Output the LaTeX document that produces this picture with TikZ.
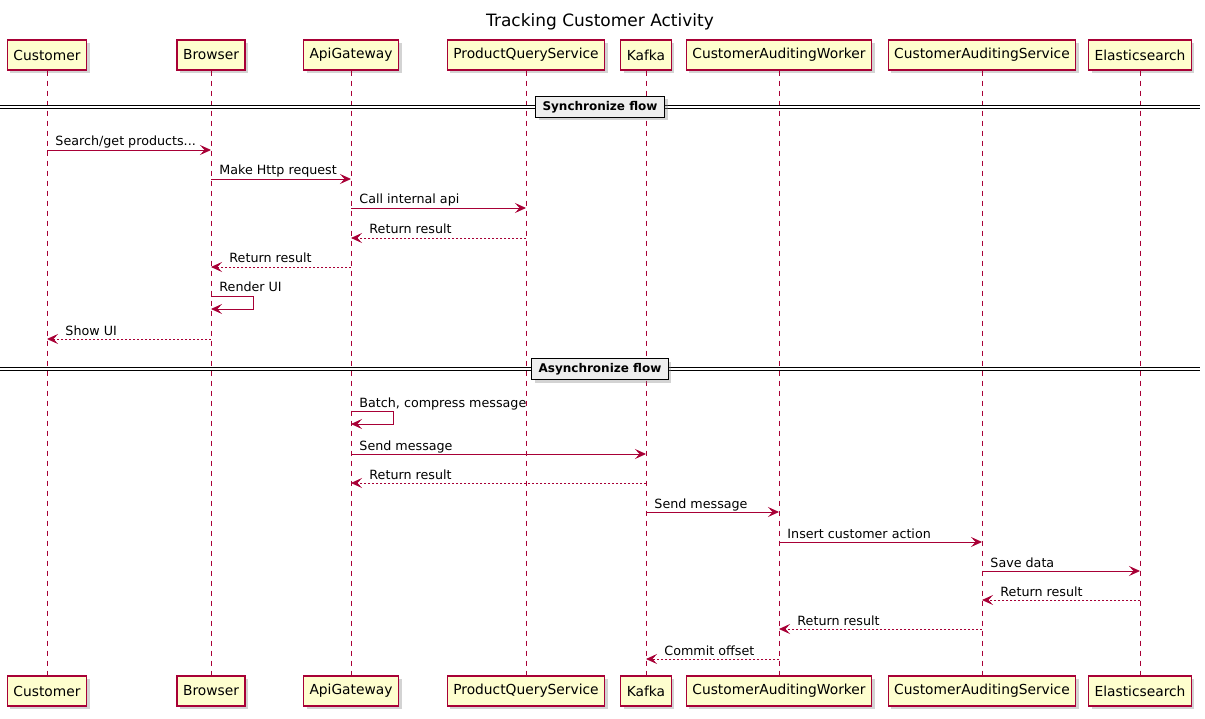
\documentclass[tikz,border=0pt]{standalone}
\usepackage{fontspec}
\setmainfont{DejaVu Sans}
\usetikzlibrary{arrows.meta,shadows}

\definecolor{umlred}{HTML}{A80036}
\definecolor{umlfill}{HTML}{FEFECE}
\definecolor{sepgray}{HTML}{EEEEEE}

\begin{document}
\begin{tikzpicture}[x=1pt,y=-1pt,
  actor/.style={draw=umlred,fill=umlfill,line width=1.2pt,minimum height=30pt,inner xsep=6pt,
    font=\fontsize{13.8}{16}\selectfont,drop shadow={opacity=0.35,shadow xshift=3pt,shadow yshift=-3pt}},
  life/.style={umlred,line width=0.8pt,dash pattern=on 5pt off 5pt},
  msg/.style={umlred,line width=0.9pt,-{Stealth[length=11pt,width=10pt,inset=4.5pt]}},
  ret/.style={msg,dash pattern=on 2pt off 2pt},
  lbl/.style={black,anchor=base west,inner sep=0pt,xshift=8pt,yshift=4pt,font=\fontsize{12.7}{15}\selectfont},
  rlbl/.style={lbl,xshift=10pt},
  divline/.style={double,double distance=2.2pt,line width=1pt},
  divbox/.style={draw,fill=sepgray,line width=1.3pt,minimum height=21pt,inner xsep=7pt,
    font=\bfseries\fontsize{12}{14}\selectfont,drop shadow={opacity=0.35,shadow xshift=3pt,shadow yshift=-3pt}}]

\useasboundingbox (0,0) rectangle (1205,719);

\node[font=\fontsize{17}{19}\selectfont] (title) at (600,22) {Tracking Customer Activity};

% participants, top row
\node[actor] (cust) at (47,55) {Customer};
\node[actor] (brow) at (211,55) {Browser};
\node[actor] (api) at (351,55) {ApiGateway};
\node[actor] (pqs) at (526,55) {ProductQueryService};
\node[actor] (kafka) at (646,55) {Kafka};
\node[actor] (worker) at (779,55) {CustomerAuditingWorker};
\node[actor] (audit) at (982,55) {CustomerAuditingService};
\node[actor] (elastic) at (1140,55) {Elasticsearch};

% participants, bottom row
\node[actor] (custB) at (47,691) {Customer};
\node[actor] (browB) at (211,691) {Browser};
\node[actor] (apiB) at (351,691) {ApiGateway};
\node[actor] (pqsB) at (526,691) {ProductQueryService};
\node[actor] (kafkaB) at (646,691) {Kafka};
\node[actor] (workerB) at (779,691) {CustomerAuditingWorker};
\node[actor] (auditB) at (982,691) {CustomerAuditingService};
\node[actor] (elasticB) at (1140,691) {Elasticsearch};

% lifelines
\draw[life] (cust) -- (custB);
\draw[life] (brow) -- (browB);
\draw[life] (api) -- (apiB);
\draw[life] (pqs) -- (pqsB);
\draw[life] (kafka) -- (kafkaB);
\draw[life] (worker) -- (workerB);
\draw[life] (audit) -- (auditB);
\draw[life] (elastic) -- (elasticB);

% separators
\draw[divline] (0,107) -- (1200,107);
\node[divbox] (sync) at (600,107) {Synchronize flow};
\draw[divline] (0,369) -- (1200,369);
\node[divbox] (async) at (600,369) {Asynchronize flow};

% synchronize flow
\draw[msg] (cust |- 0,150) node[lbl] (m1) {Search/get products...} -- (brow |- 0,150);
\draw[msg] (brow |- 0,179) node[lbl] (m2) {Make Http request} -- (api |- 0,179);
\draw[msg] (api |- 0,208) node[lbl] (m3) {Call internal api} -- (pqs |- 0,208);
\draw[ret] (pqs |- 0,238) -- (api |- 0,238) node[rlbl] (m4) {Return result};
\draw[ret] (api |- 0,267) -- (brow |- 0,267) node[rlbl] (m5) {Return result};
\draw[msg] (brow |- 0,296) node[lbl] (m6) {Render UI} -- ++(42,0) -- ++(0,13) -- (brow |- 0,309);
\draw[ret] (brow |- 0,339) -- (cust |- 0,339) node[rlbl] (m7) {Show UI};

% asynchronize flow
\draw[msg] (api |- 0,411) node[lbl] (m8) {Batch, compress message} -- ++(42,0) -- ++(0,13) -- (api |- 0,424);
\draw[msg] (api |- 0,454) node[lbl] (m9) {Send message} -- (kafka |- 0,454);
\draw[ret] (kafka |- 0,483) -- (api |- 0,483) node[rlbl] (m10) {Return result};
\draw[msg] (kafka |- 0,512) node[lbl] (m11) {Send message} -- (worker |- 0,512);
\draw[msg] (worker |- 0,542) node[lbl] (m12) {Insert customer action} -- (audit |- 0,542);
\draw[msg] (audit |- 0,571) node[lbl] (m13) {Save data} -- (elastic |- 0,571);
\draw[ret] (elastic |- 0,600) -- (audit |- 0,600) node[rlbl] (m14) {Return result};
\draw[ret] (audit |- 0,629) -- (worker |- 0,629) node[rlbl] (m15) {Return result};
\draw[ret] (worker |- 0,659) -- (kafka |- 0,659) node[rlbl] (m16) {Commit offset};

\end{tikzpicture}
\end{document}
